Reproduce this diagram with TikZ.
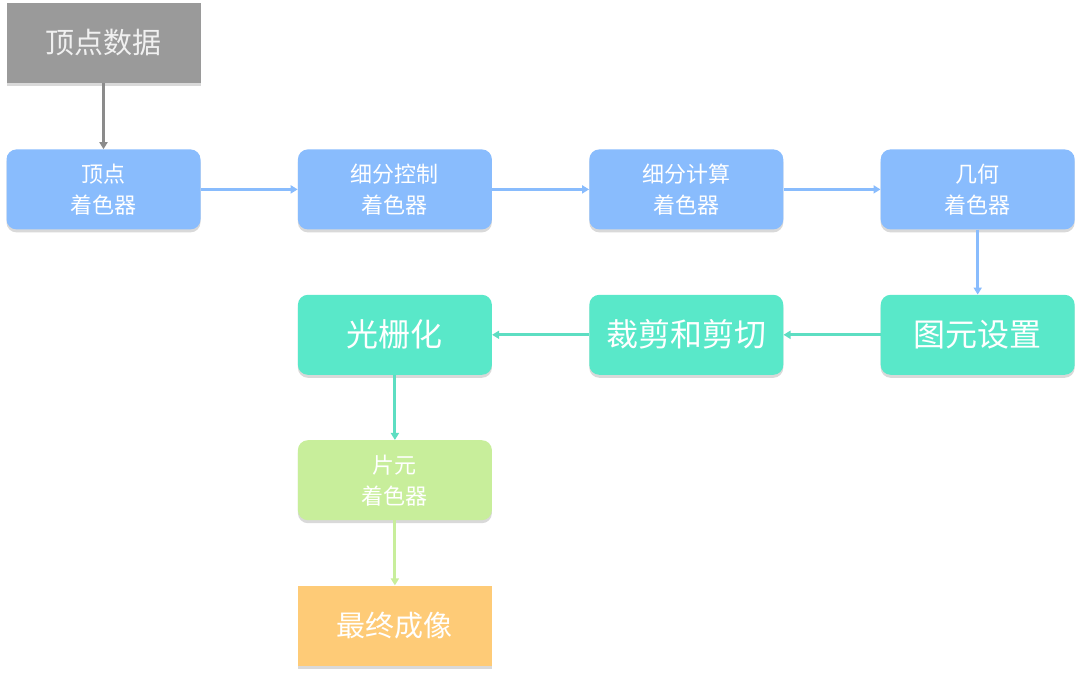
\documentclass[tikz,border=0pt]{standalone}
\usepackage{fontspec}
\setmainfont{Noto Sans CJK SC}
\usepackage{tikz}
\usetikzlibrary{arrows.meta, positioning, shadows}

\definecolor{srcgray}{HTML}{9A9A9A}
\definecolor{shaderblue}{HTML}{89BCFD}
\definecolor{fixteal}{HTML}{59E8C9}
\definecolor{fraggreen}{HTML}{C8EE9B}
\definecolor{outorange}{HTML}{FECB77}

\begin{document}
\begin{tikzpicture}[
    x=1pt, y=1pt,
    node distance=65pt and 97pt,
    >={Triangle[width=8pt,length=7pt]},
    box/.style={rectangle, draw=none, align=center, text=white, minimum width=194pt, minimum height=80pt, inner sep=2pt,
        drop shadow={shadow xshift=0pt, shadow yshift=-3pt, opacity=0.25, fill=black!60}},
    small/.style={box, rounded corners=10pt, font=\fontsize{22}{31}\selectfont},
    big/.style={box, font=\fontsize{29}{34}\selectfont},
    fixed/.style={box, rounded corners=10pt, font=\fontsize{32}{36}\selectfont},
    line/.style={draw, ->, line width=3pt}
]
\useasboundingbox (0,0) rectangle (1080,-676);

% Nodes
\node[big, fill=srcgray, text=white!94!black] (vdata) at (103.5,-43) {顶点数据};

\node[small, fill=shaderblue, below=66pt of vdata] (vshader) {顶点\\着色器};
\node[small, fill=shaderblue, right=of vshader] (tcs) {细分控制\\着色器};
\node[small, fill=shaderblue, right=of tcs] (tes) {细分计算\\着色器};
\node[small, fill=shaderblue, right=of tes] (gshader) {几何\\着色器};

\node[fixed, fill=fixteal, below=of gshader] (prim) {图元设置};
\node[fixed, fill=fixteal, left=of prim] (clip) {裁剪和剪切};
\node[fixed, fill=fixteal, left=of clip] (raster) {光栅化};

\node[small, fill=fraggreen, below=of raster] (fshader) {片元\\着色器};
\node[big, fill=outorange, below=of fshader] (final) {最终成像};

% Edges
\draw[line, srcgray!90!black] (vdata) -- (vshader);
\draw[line, shaderblue] (vshader) -- (tcs);
\draw[line, shaderblue] (tcs) -- (tes);
\draw[line, shaderblue] (tes) -- (gshader);
\draw[line, shaderblue] (gshader) -- (prim);
\draw[line, fixteal!90!gray] (prim) -- (clip);
\draw[line, fixteal!90!gray] (clip) -- (raster);
\draw[line, fixteal!90!gray] (raster) -- (fshader);
\draw[line, fraggreen] (fshader) -- (final);

\end{tikzpicture}
\end{document}
